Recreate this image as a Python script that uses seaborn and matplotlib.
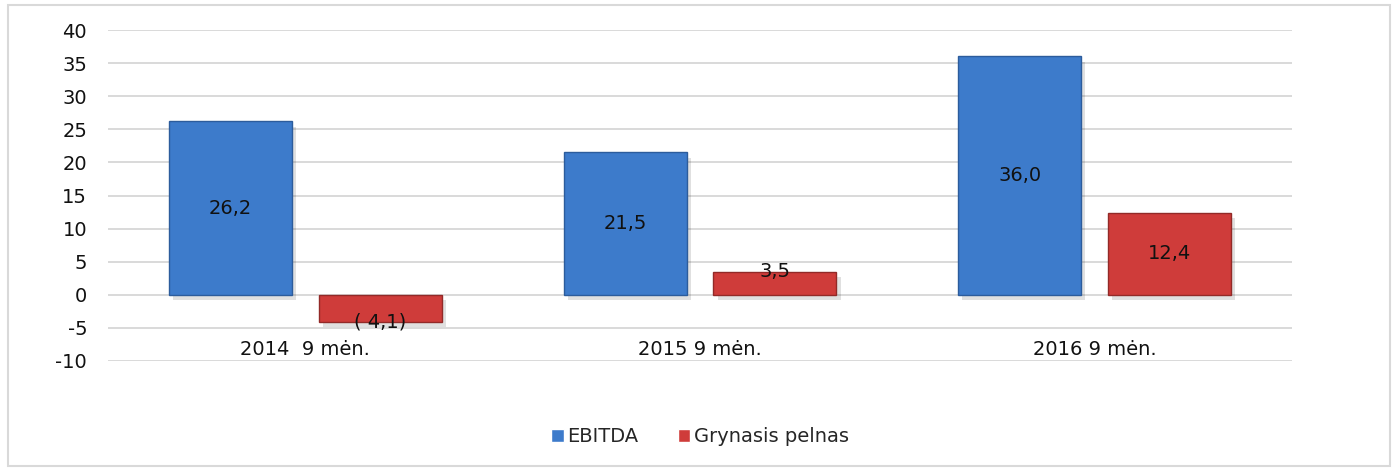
import matplotlib
matplotlib.use("Agg")
import matplotlib.pyplot as plt
import matplotlib.patheffects as pe
from matplotlib.patches import Rectangle
import seaborn as sns
import pandas as pd

categories = ["2014  9 mėn.", "2015 9 mėn.", "2016 9 mėn."]
series_names = ["EBITDA", "Grynasis pelnas"]
ebitda = [26.2, 21.5, 36.0]
net_profit = [-4.1, 3.5, 12.4]
value_labels_ebitda = ["26,2", "21,5", "36,0"]
value_labels_net = ["( 4,1)", "3,5", "12,4"]
y_ticks = [-10, -5, 0, 5, 10, 15, 20, 25, 30, 35, 40]

df = pd.DataFrame({
    "cat": categories * 2,
    "series": [series_names[0]] * 3 + [series_names[1]] * 3,
    "value": ebitda + net_profit,
})

sns.set_theme(style="white")
plt.rcParams["font.family"] = ["DejaVu Sans"]
FS = 14

fig = plt.figure(figsize=(13.96, 4.68), dpi=100)
fig.patches.append(Rectangle((8 / 1396, 2 / 468), 1382 / 1396, 461 / 468,
                             transform=fig.transFigure, fill=False,
                             edgecolor="#d9d9d9", linewidth=1.5))
ax = fig.add_axes([108 / 1396, 1 - 361 / 468, (1292 - 108) / 1396, (361 - 30) / 468])

palette = {"EBITDA": "#3d7bcb", "Grynasis pelnas": "#cf3c3a"}
edges = {"EBITDA": "#2c5c9c", "Grynasis pelnas": "#922a28"}
sns.barplot(data=df, x="cat", y="value", hue="series", order=categories,
            hue_order=series_names, palette=palette, width=0.76, gap=0.18,
            saturation=1, ax=ax, legend=True, zorder=3)

for container, name in zip(ax.containers, series_names):
    for p in container:
        p.set_edgecolor(edges[name])
        p.set_linewidth(1.0)
        p.set_path_effects([pe.SimplePatchShadow(offset=(3, -4), shadow_rgbFace="#000000", alpha=0.12),
                            pe.Normal()])

for container, labels in zip(ax.containers, [value_labels_ebitda, value_labels_net]):
    for p, lab in zip(container, labels):
        h = p.get_height()
        x = p.get_x() + p.get_width() / 2
        y = h / 2 if abs(h) > 5 else h
        ax.text(x, y, lab, ha="center", va="center", fontsize=FS, color="#111111", zorder=5)

ax.set_ylim(-10, 40)
ax.set_xlim(-0.5, 2.5)
ax.set_yticks(y_ticks)
ax.set_yticklabels([str(t) for t in y_ticks], fontsize=FS, color="#111111")
ax.yaxis.grid(True, color="#d9d9d9", linewidth=1.4, zorder=0)
ax.set_axisbelow(True)
for s in ax.spines.values():
    s.set_visible(False)
ax.tick_params(axis="y", length=0, pad=15)
ax.tick_params(axis="x", length=0, pad=-15)
ax.set_xticks(range(len(categories)))
ax.set_xticklabels(categories, fontsize=FS, color="#111111")
ax.set_xlabel("")
ax.set_ylabel("")

handles, labels = ax.get_legend_handles_labels()
ax.legend_.remove()
fig.legend(handles, labels, loc="center", bbox_to_anchor=(700 / 1396, 1 - 437 / 468),
           ncol=2, frameon=False, fontsize=FS, handlelength=0.65, handleheight=0.65,
           handletextpad=0.2, columnspacing=2.0)

fig.savefig("out.png", dpi=100, facecolor="white")
